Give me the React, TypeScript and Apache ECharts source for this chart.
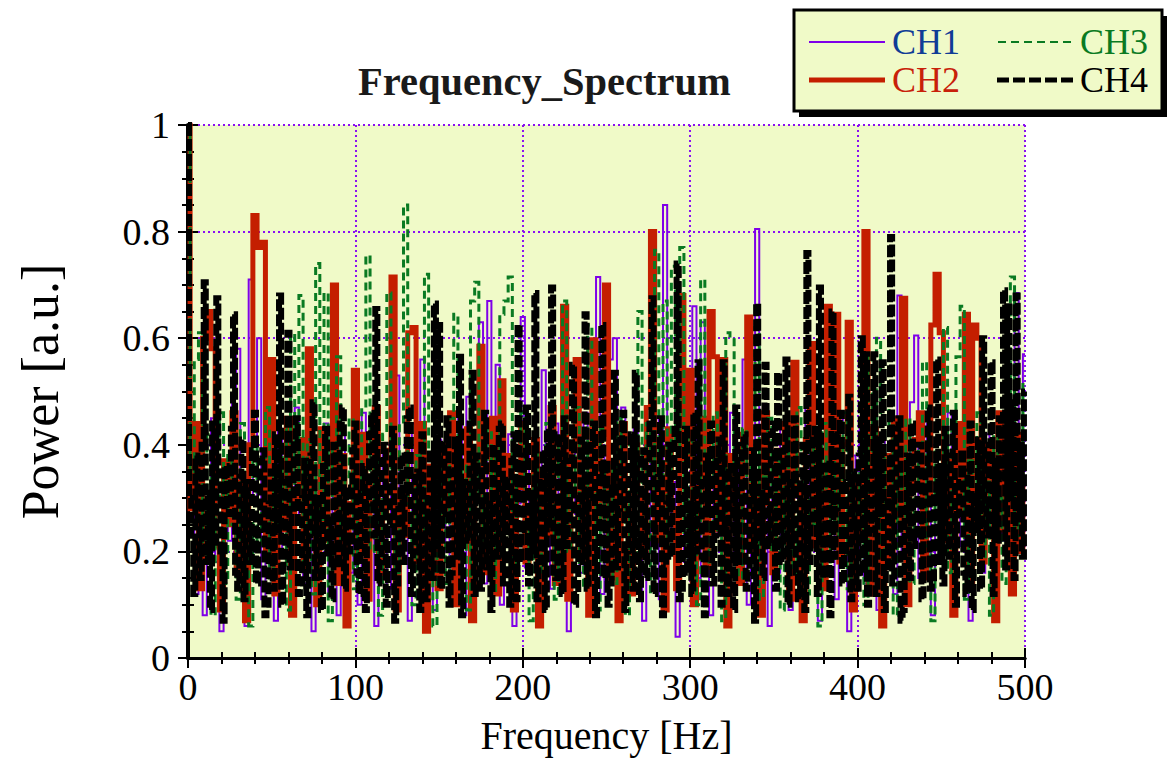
import React, { useEffect, useRef } from "react";
import * as echarts from "echarts";

// Frequency axis runs from 0 to 500 Hz; each channel's bins are evenly spaced over it.
const F_MAX_HZ = 500;

const X_TICKS = [0, 100, 200, 300, 400, 500];
const Y_TICKS = [0, 0.2, 0.4, 0.6, 0.8, 1];

const SERIES_NAMES = ["CH1", "CH2", "CH3", "CH4"];

const CH1 = [
  1.0, 0.32, 0.12, 0.41, 0.08, 0.27, 0.45, 0.18, 0.05, 0.36, 0.22, 0.49, 0.58, 0.15, 0.06, 0.71, 0.30, 0.60, 0.11, 0.38,
  0.24, 0.07, 0.43, 0.19, 0.33, 0.09, 0.47, 0.26, 0.14, 0.39, 0.05, 0.31, 0.22, 0.44, 0.12, 0.35, 0.08, 0.42, 0.28, 0.16,
  0.37, 0.10, 0.46, 0.21, 0.30, 0.06, 0.40, 0.25, 0.13, 0.34, 0.53, 0.18, 0.29, 0.07, 0.44, 0.23, 0.56, 0.15, 0.32, 0.09,
  0.41, 0.20, 0.36, 0.11, 0.27, 0.45, 0.08, 0.49, 0.19, 0.38, 0.63, 0.14, 0.67, 0.24, 0.55, 0.10, 0.33, 0.42, 0.06, 0.29,
  0.64, 0.17, 0.39, 0.25, 0.08, 0.54, 0.31, 0.13, 0.44, 0.21, 0.35, 0.05, 0.40, 0.27, 0.16, 0.46, 0.22, 0.34, 0.715, 0.12,
  0.38, 0.56, 0.60, 0.09, 0.47, 0.26, 0.14, 0.43, 0.30, 0.07, 0.37, 0.20, 0.45, 0.11, 0.85, 0.24, 0.33, 0.04, 0.41, 0.18,
  0.29, 0.66, 0.15, 0.63, 0.35, 0.08, 0.42, 0.23, 0.31, 0.12, 0.46, 0.19, 0.37, 0.56, 0.10, 0.28, 0.805, 0.21, 0.39, 0.06,
  0.34, 0.16, 0.44, 0.25, 0.09, 0.40, 0.30, 0.13, 0.47, 0.22, 0.36, 0.07, 0.42, 0.18, 0.32, 0.11, 0.45, 0.26, 0.05, 0.38,
  0.20, 0.43, 0.14, 0.35, 0.27, 0.09, 0.41, 0.23, 0.31, 0.12, 0.68, 0.19, 0.37, 0.48, 0.605, 0.15, 0.29, 0.44, 0.08, 0.34,
  0.24, 0.40, 0.46, 0.11, 0.33, 0.21, 0.45, 0.07, 0.38, 0.26, 0.16, 0.42, 0.30, 0.10, 0.36, 0.22, 0.47, 0.14, 0.685, 0.28,
  0.57,
];

const CH2 = [
  1.0, 0.28, 0.44, 0.13, 0.60, 0.65, 0.58, 0.21, 0.09, 0.37, 0.25, 0.46, 0.16, 0.33, 0.07, 0.40, 0.83, 0.77, 0.78, 0.19,
  0.56, 0.12, 0.35, 0.24, 0.45, 0.08, 0.30, 0.41, 0.17, 0.58, 0.26, 0.10, 0.43, 0.22, 0.34, 0.70, 0.14, 0.38, 0.06, 0.29,
  0.54, 0.20, 0.42, 0.11, 0.33, 0.47, 0.15, 0.27, 0.39, 0.715, 0.09, 0.31, 0.23, 0.61, 0.62, 0.18, 0.44, 0.05, 0.36, 0.25,
  0.13, 0.40, 0.28, 0.46, 0.10, 0.34, 0.21, 0.43, 0.07, 0.37, 0.585, 0.16, 0.29, 0.45, 0.12, 0.52, 0.24, 0.38, 0.09, 0.32,
  0.44, 0.18, 0.27, 0.41, 0.06, 0.35, 0.23, 0.47, 0.14, 0.30, 0.66, 0.11, 0.39, 0.56, 0.20, 0.33, 0.08, 0.597, 0.25, 0.42,
  0.70, 0.15, 0.36, 0.07, 0.44, 0.26, 0.12, 0.40, 0.31, 0.19, 0.47, 0.80, 0.22, 0.34, 0.09, 0.43, 0.28, 0.13, 0.68, 0.37,
  0.54, 0.10, 0.32, 0.45, 0.17, 0.65, 0.565, 0.24, 0.56, 0.06, 0.38, 0.27, 0.14, 0.42, 0.64, 0.20, 0.35, 0.08, 0.46, 0.29,
  0.16, 0.39, 0.25, 0.44, 0.11, 0.555, 0.31, 0.07, 0.41, 0.59, 0.21, 0.36, 0.13, 0.66, 0.28, 0.645, 0.18, 0.40, 0.63, 0.09,
  0.34, 0.23, 0.80, 0.12, 0.43, 0.29, 0.06, 0.38, 0.19, 0.45, 0.26, 0.675, 0.10, 0.33, 0.41, 0.46, 0.15, 0.30, 0.625, 0.72,
  0.61, 0.22, 0.37, 0.08, 0.44, 0.27, 0.645, 0.14, 0.625, 0.60, 0.18, 0.40, 0.31, 0.07, 0.46, 0.24, 0.35, 0.12, 0.42, 0.20,
  0.33,
];

const CH3 = [
  1.0, 0.35, 0.56, 0.61, 0.19, 0.42, 0.08, 0.30, 0.46, 0.14, 0.38, 0.25, 0.11, 0.44, 0.27, 0.06, 0.40, 0.21, 0.33, 0.47,
  0.15, 0.36, 0.24, 0.43, 0.09, 0.61, 0.29, 0.68, 0.18, 0.41, 0.12, 0.74, 0.26, 0.685, 0.07, 0.39, 0.565, 0.22, 0.34, 0.45,
  0.13, 0.31, 0.47, 0.755, 0.20, 0.37, 0.08, 0.42, 0.685, 0.25, 0.16, 0.44, 0.85, 0.29, 0.10, 0.38, 0.23, 0.72, 0.34, 0.06,
  0.40, 0.27, 0.14, 0.45, 0.645, 0.19, 0.36, 0.09, 0.67, 0.705, 0.31, 0.22, 0.43, 0.12, 0.38, 0.645, 0.67, 0.715, 0.17, 0.33,
  0.46, 0.24, 0.07, 0.39, 0.28, 0.15, 0.44, 0.35, 0.11, 0.41, 0.67, 0.20, 0.32, 0.47, 0.13, 0.26, 0.625, 0.38, 0.09, 0.43,
  0.23, 0.36, 0.14, 0.45, 0.30, 0.08, 0.41, 0.19, 0.65, 0.27, 0.44, 0.12, 0.765, 0.33, 0.67, 0.21, 0.735, 0.39, 0.77, 0.16,
  0.42, 0.28, 0.10, 0.71, 0.35, 0.18, 0.46, 0.24, 0.07, 0.61, 0.60, 0.31, 0.15, 0.43, 0.26, 0.38, 0.62, 0.11, 0.34, 0.45,
  0.20, 0.37, 0.09, 0.42, 0.29, 0.16, 0.47, 0.33, 0.12, 0.40, 0.25, 0.06, 0.44, 0.31, 0.18, 0.38, 0.23, 0.46, 0.13, 0.35,
  0.27, 0.41, 0.10, 0.57, 0.34, 0.60, 0.19, 0.43, 0.49, 0.08, 0.36, 0.24, 0.45, 0.14, 0.32, 0.40, 0.555, 0.21, 0.07, 0.39,
  0.28, 0.62, 0.16, 0.44, 0.565, 0.66, 0.11, 0.37, 0.25, 0.46, 0.19, 0.33, 0.08, 0.42, 0.30, 0.14, 0.45, 0.715, 0.23, 0.38,
  0.52,
];

// CH4 is read at twice the resolution (1.25 Hz bins).
const CH4 = [
  1.0, 0.30, 0.22, 0.12, 0.38, 0.26, 0.15, 0.40, 0.705, 0.18, 0.31, 0.09, 0.44, 0.21, 0.675, 0.35, 0.20, 0.07, 0.36, 0.28,
  0.27, 0.43, 0.645, 0.16, 0.13, 0.34, 0.41, 0.11, 0.33, 0.25, 0.18, 0.39, 0.46, 0.14, 0.24, 0.37, 0.39, 0.08, 0.10, 0.29,
  0.35, 0.13, 0.42, 0.24, 0.68, 0.10, 0.19, 0.33, 0.61, 0.17, 0.28, 0.41, 0.45, 0.12, 0.14, 0.30, 0.37, 0.08, 0.23, 0.38,
  0.48, 0.15, 0.30, 0.22, 0.09, 0.36, 0.43, 0.19, 0.26, 0.11, 0.40, 0.27, 0.17, 0.44, 0.47, 0.13, 0.32, 0.20, 0.21, 0.39,
  0.44, 0.16, 0.12, 0.31, 0.36, 0.09, 0.29, 0.42, 0.46, 0.23, 0.655, 0.14, 0.18, 0.37, 0.40, 0.10, 0.25, 0.33, 0.43, 0.07,
  0.14, 0.28, 0.38, 0.18, 0.31, 0.45, 0.47, 0.12, 0.20, 0.34, 0.35, 0.09, 0.42, 0.26, 0.11, 0.30, 0.39, 0.15, 0.665, 0.21,
  0.625, 0.13, 0.27, 0.40, 0.45, 0.10, 0.16, 0.35, 0.41, 0.19, 0.565, 0.08, 0.33, 0.27, 0.22, 0.44, 0.535, 0.12, 0.38, 0.24,
  0.13, 0.36, 0.46, 0.17, 0.29, 0.09, 0.40, 0.31, 0.19, 0.43, 0.44, 0.14, 0.34, 0.22, 0.10, 0.37, 0.42, 0.11, 0.625, 0.18,
  0.24, 0.38, 0.47, 0.14, 0.31, 0.20, 0.685, 0.11, 0.18, 0.33, 0.39, 0.09, 0.43, 0.25, 0.695, 0.16, 0.15, 0.42, 0.36, 0.12,
  0.45, 0.21, 0.26, 0.37, 0.55, 0.10, 0.12, 0.30, 0.41, 0.18, 0.645, 0.13, 0.30, 0.40, 0.44, 0.08, 0.21, 0.35, 0.625, 0.15,
  0.37, 0.10, 0.14, 0.32, 0.535, 0.17, 0.28, 0.41, 0.46, 0.09, 0.20, 0.36, 0.42, 0.13, 0.535, 0.22, 0.11, 0.38, 0.39, 0.15,
  0.32, 0.44, 0.675, 0.12, 0.25, 0.34, 0.45, 0.08, 0.17, 0.29, 0.40, 0.19, 0.34, 0.43, 0.74, 0.11, 0.13, 0.30, 0.43, 0.16,
  0.29, 0.12, 0.46, 0.20, 0.555, 0.33, 0.19, 0.08, 0.38, 0.27, 0.44, 0.14, 0.23, 0.37, 0.41, 0.10, 0.555, 0.24, 0.12, 0.35,
  0.36, 0.09, 0.47, 0.18, 0.27, 0.40, 0.42, 0.13, 0.16, 0.31, 0.39, 0.07, 0.665, 0.22, 0.31, 0.15, 0.55, 0.28, 0.21, 0.42,
  0.44, 0.13, 0.535, 0.25, 0.18, 0.39, 0.56, 0.10, 0.33, 0.21, 0.45, 0.16, 0.11, 0.34, 0.40, 0.09, 0.76, 0.18, 0.26, 0.41,
  0.43, 0.12, 0.695, 0.23, 0.15, 0.36, 0.37, 0.08, 0.65, 0.19, 0.28, 0.42, 0.46, 0.14, 0.20, 0.33, 0.49, 0.11, 0.35, 0.24,
  0.13, 0.38, 0.60, 0.16, 0.57, 0.10, 0.24, 0.35, 0.57, 0.12, 0.41, 0.27, 0.555, 0.09, 0.17, 0.30, 0.79, 0.14, 0.32, 0.43,
  0.45, 0.07, 0.09, 0.28, 0.38, 0.15, 0.44, 0.21, 0.22, 0.40, 0.40, 0.11, 0.29, 0.36, 0.47, 0.13, 0.14, 0.31, 0.56, 0.18,
  0.36, 0.14, 0.43, 0.26, 0.19, 0.38, 0.46, 0.10, 0.27, 0.33, 0.39, 0.16, 0.12, 0.35, 0.44, 0.09, 0.31, 0.24, 0.41, 0.13,
  0.60, 0.28, 0.23, 0.40, 0.555, 0.12, 0.37, 0.22, 0.45, 0.34, 0.69, 0.17, 0.66, 0.30, 0.48, 0.15, 0.68, 0.26, 0.40, 0.19,
  0.50,
];

const SERIES_VALUES = [CH1, CH2, CH3, CH4];

const FONT = "'Liberation Serif', 'DejaVu Serif', serif";
const CREAM = "#f0fac8";
const GRID_PURPLE = "#8a10f0";

const LINE_STYLES = [
  { color: "#7f00e8", width: 2, type: "solid" as any },
  { color: "#c41e00", width: 5, type: "solid" as any },
  { color: "#0a7a22", width: 3, type: [8, 5] as any },
  { color: "#000000", width: 6, type: [12, 3] as any },
];

const LEGEND_TEXT_COLORS = ["#103c96", "#c8200a", "#0a7a22", "#000000"];

function pairs(values: number[]) {
  const step = F_MAX_HZ / (values.length - 1);
  return values.map((v, i) => [i * step, v]);
}

export default function App() {
  const ref = useRef<HTMLDivElement>(null);

  useEffect(() => {
    const chart = echarts.init(ref.current!, null, { renderer: "svg" });

    const tickCommon = {
      axisTick: { show: true, inside: true, length: 10, lineStyle: { color: "#000", width: 2 } },
      minorTick: { show: true, length: 6, lineStyle: { color: "#000", width: 2 } },
    };

    const legendItems: any[] = [];
    const legendPos = [
      { x1: 809, x2: 885, y: 42, tx: 892 },
      { x1: 809, x2: 885, y: 80, tx: 892 },
      { x1: 998, x2: 1075, y: 42, tx: 1080 },
      { x1: 997, x2: 1075, y: 80, tx: 1080 },
    ];
    SERIES_NAMES.forEach((name, k) => {
      const p = legendPos[k];
      const ls = LINE_STYLES[k];
      legendItems.push({
        type: "line",
        shape: { x1: p.x1, y1: p.y, x2: p.x2, y2: p.y },
        style: {
          stroke: ls.color,
          lineWidth: k === 2 ? 2 : k === 3 ? 5 : ls.width,
          lineDash: Array.isArray(ls.type) ? (k === 3 ? [12, 4] : ls.type) : null,
        },
        z: 102,
      });
      legendItems.push({
        type: "text",
        x: p.tx,
        y: p.y,
        style: {
          text: name,
          fill: LEGEND_TEXT_COLORS[k],
          font: `36px ${FONT}`,
          lineHeight: 32,
          textVerticalAlign: "middle",
          verticalAlign: "middle",
        },
        z: 102,
      });
    });

    const option: any = {
      animation: false,
      backgroundColor: "#ffffff",
      grid: {
        left: 188,
        right: 146,
        top: 125,
        bottom: 105,
        show: true,
        backgroundColor: CREAM,
        borderWidth: 0,
      },
      xAxis: [
        {
          type: "value",
          min: 0,
          max: 500,
          interval: 100,
          position: "bottom",
          name: "Frequency [Hz]",
          nameLocation: "middle",
          nameGap: 57,
          nameTextStyle: { fontFamily: FONT, fontSize: 40, color: "#000" },
          axisLine: { show: true, lineStyle: { color: "#000", width: 3 } },
          ...tickCommon,
          minorTick: { ...tickCommon.minorTick, splitNumber: 5 },
          axisLabel: {
            fontFamily: FONT,
            fontSize: 38,
            color: "#000",
            margin: 10,
            formatter: (v: number) => (X_TICKS.includes(v) ? String(v) : ""),
          },
          splitLine: { show: true, lineStyle: { color: GRID_PURPLE, width: 2, type: [2, 3] } },
        },
        {
          type: "value",
          min: 0,
          max: 500,
          interval: 100,
          position: "top",
          axisLine: { show: true, lineStyle: { color: "#000", width: 3 } },
          ...tickCommon,
          minorTick: { ...tickCommon.minorTick, splitNumber: 5 },
          axisLabel: { show: false },
          splitLine: { show: false },
        },
      ],
      yAxis: [
        {
          type: "value",
          min: 0,
          max: 1,
          interval: 0.2,
          position: "left",
          name: "Power [a.u.]",
          nameLocation: "middle",
          nameGap: 122,
          nameTextStyle: { fontFamily: FONT, fontSize: 52, color: "#000" },
          axisLine: { show: true, lineStyle: { color: "#000", width: 4 } },
          ...tickCommon,
          minorTick: { ...tickCommon.minorTick, splitNumber: 4 },
          axisLabel: {
            fontFamily: FONT,
            fontSize: 38,
            color: "#000",
            margin: 18,
            formatter: (v: number) => {
              const t = Y_TICKS.find((y) => Math.abs(y - v) < 1e-9);
              return t === undefined ? "" : String(t);
            },
          },
          splitLine: { show: true, lineStyle: { color: GRID_PURPLE, width: 2, type: [2, 3] } },
        },
        {
          type: "value",
          min: 0,
          max: 1,
          interval: 0.2,
          position: "right",
          axisLine: { show: false },
          ...tickCommon,
          minorTick: { ...tickCommon.minorTick, splitNumber: 4 },
          axisLabel: { show: false },
          splitLine: { show: false },
        },
      ],
      series: SERIES_NAMES.map((name, k) => ({
        name,
        type: "line",
        xAxisIndex: 0,
        yAxisIndex: 0,
        step: "middle",
        data: pairs(SERIES_VALUES[k]),
        showSymbol: false,
        symbol: "none",
        lineStyle: { ...LINE_STYLES[k], cap: "butt", join: "miter" },
        z: 2 + k,
      })),
      graphic: [
        {
          type: "text",
          x: 358,
          y: 81,
          style: {
            text: "Frequency_Spectrum",
            fill: "#1a1a1a",
            font: `bold 40.5px ${FONT}`,
            textVerticalAlign: "middle",
            verticalAlign: "middle",
          },
          z: 100,
        },
        {
          type: "rect",
          shape: { x: 799, y: 16, width: 368, height: 101 },
          style: { fill: "#000" },
          z: 100,
        },
        {
          type: "rect",
          shape: { x: 794, y: 10, width: 368, height: 101 },
          style: { fill: CREAM, stroke: "#000", lineWidth: 3 },
          z: 101,
        },
        ...legendItems,
      ],
    };

    chart.setOption(option);
    return () => chart.dispose();
  }, []);

  return (
    <div
      ref={ref}
      style={{ position: "fixed", left: 0, top: 0, width: 1171, height: 763, background: "#fff" }}
    />
  );
}
